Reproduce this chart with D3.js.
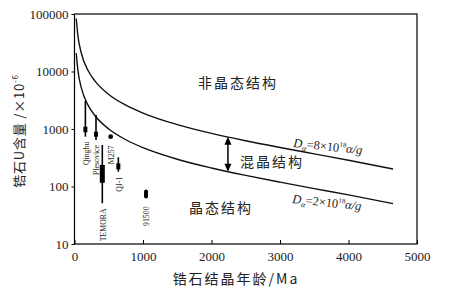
<!DOCTYPE html>
<html>
<head>
<meta charset="utf-8">
<script src="https://cdn.jsdelivr.net/npm/d3@7/dist/d3.min.js"></script>
<style>
  body { margin:0; background:#fff; }
  text { fill:#222; }
</style>
</head>
<body>
<div id="chart"></div>
<script>
// curve values (age in Ma, U in ppm)
var curveAges = [25, 50, 100, 200, 300, 500, 750, 1000, 1500, 2000, 2500, 3000, 3500, 4000, 4650];
var upperU = [83600, 41700, 20760, 10280, 6790, 3990, 2600, 1895, 1193, 839, 624, 477, 369, 286, 202];
var lowerU = [20900, 10430, 5190, 2570, 1700, 998, 650, 474, 298, 210, 156, 119, 92, 71.5, 50.4];

// zircon standards
var stdNames = ["Qinghu", "Plesovice", "M257", "TEMORA", "QJ-1", "91500"];
var stdAges  = [159, 314, 528, 406, 640, 1044];
var stdLineHi = [3100, 1750, null, 527, 322, null];
var stdLineLo = [735, 644, null, 51, 181, null];
var stdBoxHi = [1097, 898, 760, 237, 253, 89];
var stdBoxLo = [877, 735, 710, 116, 199, 62];
var stdKind = ["box", "box", "dot", "box", "box", "oval"];

var xTicks = [0, 1000, 2000, 3000, 4000, 5000];
var yTicks = [10, 100, 1000, 10000, 100000];

var W = 460, H = 292;
var margin = { left:74.5, right:43, top:14, bottom:48 };
var wid = W - margin.left - margin.right;
var hei = H - margin.top - margin.bottom;

var svg = d3.select("#chart").append("svg")
    .attr("width", W)
    .attr("height", H);

var g = svg.append("g")
    .attr("transform", "translate(" + margin.left + "," + margin.top + ")");

var xScale = d3.scaleLinear().domain([0, 5000]).range([0, wid]);
var yScale = d3.scaleLog().domain([10, 100000]).range([hei, 0]);

g.append("clipPath").attr("id", "area")
    .append("rect").attr("x", 0).attr("y", 0).attr("width", wid).attr("height", hei);

// axes
var xAxis = d3.axisBottom(xScale).tickValues(xTicks).tickSize(-4).tickPadding(8)
    .tickFormat(d3.format("d"));
var yAxis = d3.axisLeft(yScale).tickValues(yTicks).tickSize(3).tickPadding(3)
    .tickFormat(d3.format("d"));

var xg = g.append("g").attr("transform", "translate(0," + hei + ")").call(xAxis);
var yg = g.append("g").call(yAxis);
[xg, yg].forEach(function (a) {
    a.select(".domain").remove();
    a.selectAll("line").attr("stroke", "#000").attr("stroke-width", 1);
    a.selectAll("text")
        .attr("font-family", "Liberation Serif, serif")
        .attr("font-size", 13)
        .attr("fill", "#333");
});

g.append("rect")
    .attr("x", 0).attr("y", 0)
    .attr("width", wid).attr("height", hei)
    .attr("fill", "none")
    .attr("stroke", "#000")
    .attr("stroke-width", 1.2);

// dose curves
var line = d3.line()
    .x(function (d) { return xScale(d[0]); })
    .y(function (d) { return yScale(d[1]); })
    .curve(d3.curveMonotoneX);

var curves = g.append("g").attr("clip-path", "url(#area)");
[upperU, lowerU].forEach(function (vals) {
    curves.append("path")
        .datum(curveAges.map(function (a, i) { return [a, vals[i]]; }))
        .attr("d", line)
        .attr("fill", "none")
        .attr("stroke", "#111")
        .attr("stroke-width", 1.4);
});

// standards
var stds = stdNames.map(function (n, i) {
    return { name:n, age:stdAges[i], hi:stdLineHi[i], lo:stdLineLo[i],
             bhi:stdBoxHi[i], blo:stdBoxLo[i], kind:stdKind[i] };
});

var sg = g.append("g");
stds.forEach(function (d) {
    var cx = xScale(d.age);
    if (d.hi) {
        sg.append("line")
            .attr("x1", cx).attr("x2", cx)
            .attr("y1", yScale(d.hi)).attr("y2", yScale(d.lo))
            .attr("stroke", "#000").attr("stroke-width", 1.6);
    }
    var bw = d.name === "TEMORA" ? 5 : 4;
    if (d.kind === "dot") {
        sg.append("circle")
            .attr("cx", cx).attr("cy", yScale(Math.sqrt(d.bhi * d.blo)))
            .attr("r", 2.4).attr("fill", "#000");
    } else {
        sg.append("rect")
            .attr("x", cx - bw / 2).attr("width", bw)
            .attr("y", yScale(d.bhi))
            .attr("height", yScale(d.blo) - yScale(d.bhi))
            .attr("rx", d.kind === "oval" ? 2 : 0)
            .attr("fill", "#000");
    }
    var bottom = yScale(d.lo ? d.lo : d.blo);
    var off = d.kind === "dot" ? 8 : (d.name === "91500" ? 8 : 5);
    sg.append("text")
        .attr("transform", "translate(" + (cx + 0.5) + "," + (bottom + off) + ") rotate(-90)")
        .attr("text-anchor", "end")
        .attr("dy", "0.35em")
        .attr("font-family", "Liberation Serif, serif")
        .attr("font-size", 7.8)
        .attr("fill", "#333")
        .text(d.name);
});

// region labels
var cjk = "Noto Sans CJK SC, sans-serif";
function region(txt, x, y) {
    g.append("text")
        .attr("x", x).attr("y", y)
        .attr("text-anchor", "middle")
        .attr("dy", "0.35em")
        .attr("font-family", cjk)
        .attr("font-size", 14)
        .attr("letter-spacing", 2)
        .attr("fill", "#444")
        .text(txt);
}
region("非晶态结构", 238 - margin.left, 83 - margin.top);
region("混晶结构", 272 - margin.left, 162 - margin.top);
region("晶态结构", 221 - margin.left, 208 - margin.top);

// double arrow between curves
var ax = xScale(2240), ay1 = yScale(735), ay2 = yScale(181);
g.append("line").attr("x1", ax).attr("x2", ax)
    .attr("y1", ay1 + 6).attr("y2", ay2 - 6)
    .attr("stroke", "#000").attr("stroke-width", 1.5);
g.append("path")
    .attr("d", "M" + ax + "," + ay1 + "L" + (ax - 3.5) + "," + (ay1 + 8) + "L" + (ax + 3.5) + "," + (ay1 + 8) + "Z")
    .attr("fill", "#000");
g.append("path")
    .attr("d", "M" + ax + "," + ay2 + "L" + (ax - 3.5) + "," + (ay2 - 8) + "L" + (ax + 3.5) + "," + (ay2 - 8) + "Z")
    .attr("fill", "#000");

// dose labels
function doseLabel(val, x, y) {
    var t = g.append("text")
        .attr("transform", "translate(" + x + "," + y + ") rotate(6)")
        .attr("font-family", "Liberation Serif, serif")
        .attr("font-size", 12.5)
        .attr("fill", "#222");
    t.append("tspan").attr("font-style", "italic").text("D");
    t.append("tspan").attr("font-style", "italic").attr("font-size", 8).attr("dy", 3).text("α");
    t.append("tspan").attr("dy", -3).text("=" + val + "×10");
    t.append("tspan").attr("font-size", 7).attr("dy", -5).text("18");
    t.append("tspan").attr("font-style", "italic").attr("dy", 5).text("α/g");
}
doseLabel("8", 293 - margin.left, 147 - margin.top);
doseLabel("2", 292 - margin.left, 203 - margin.top);

// axis titles
svg.append("text")
    .attr("x", 236).attr("y", 279)
    .attr("text-anchor", "middle")
    .attr("dy", "0.35em")
    .attr("font-family", cjk)
    .attr("font-size", 14)
    .attr("letter-spacing", 2)
    .attr("fill", "#444")
    .text("锆石结晶年龄/Ma");

var yt = svg.append("text")
    .attr("transform", "translate(19,131) rotate(-90)")
    .attr("text-anchor", "middle")
    .attr("dy", "0.35em")
    .attr("font-family", cjk)
    .attr("font-size", 13)
    .attr("letter-spacing", 0.8)
    .attr("fill", "#444");
yt.append("tspan").text("锆石U含量 /×10");
yt.append("tspan").attr("font-size", 8).attr("dy", -6).text("-6");
</script>
</body>
</html>
